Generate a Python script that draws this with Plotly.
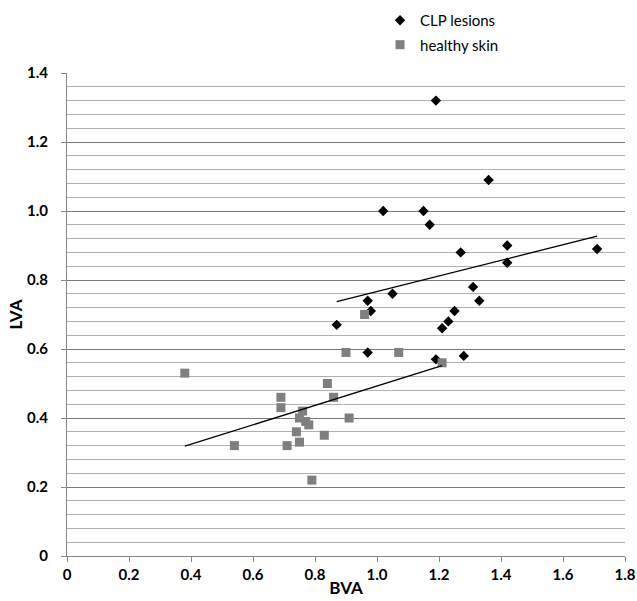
import numpy as np
import plotly.graph_objects as go

# CLP lesions (BVA, LVA)
clp_bva = [1.19, 1.36, 1.02, 1.15, 1.17, 1.42, 1.27, 1.71, 1.42, 1.31, 1.05,
           0.97, 1.33, 0.98, 1.25, 1.23, 0.87, 1.21, 0.97, 1.28, 1.19]
clp_lva = [1.32, 1.09, 1.00, 1.00, 0.96, 0.90, 0.88, 0.89, 0.85, 0.78, 0.76,
           0.74, 0.74, 0.71, 0.71, 0.68, 0.67, 0.66, 0.59, 0.58, 0.57]

# healthy skin (BVA, LVA)
hs_bva = [0.38, 0.54, 0.69, 0.69, 0.71, 0.74, 0.75, 0.75, 0.76, 0.77,
          0.78, 0.79, 0.83, 0.84, 0.86, 0.91, 0.90, 0.96, 1.07, 1.21]
hs_lva = [0.53, 0.32, 0.46, 0.43, 0.32, 0.36, 0.40, 0.33, 0.42, 0.39,
          0.38, 0.22, 0.35, 0.50, 0.46, 0.40, 0.59, 0.70, 0.59, 0.56]

x_tickvals = [0, 0.2, 0.4, 0.6, 0.8, 1.0, 1.2, 1.4, 1.6, 1.8]
x_ticktext = ["0", "0.2", "0.4", "0.6", "0.8", "1.0", "1.2", "1.4", "1.6", "1.8"]
y_tickvals = [0, 0.2, 0.4, 0.6, 0.8, 1.0, 1.2, 1.4]
y_ticktext = ["0", "0.2", "0.4", "0.6", "0.8", "1.0", "1.2", "1.4"]


def fit_line(xs, ys):
    xs = np.asarray(xs, float)
    ys = np.asarray(ys, float)
    m, b = np.polyfit(xs, ys, 1)
    xe = np.array([xs.min(), xs.max()])
    return xe, m * xe + b


FONT = "Lato, 'Open Sans', sans-serif"

fig = go.Figure()
fig.add_trace(go.Scatter(
    x=clp_bva, y=clp_lva, mode="markers", name="CLP lesions", legendgroup="clp",
    marker=dict(symbol="diamond", size=8, color="#000000", line=dict(width=0)),
))
fig.add_trace(go.Scatter(
    x=hs_bva, y=hs_lva, mode="markers", name="healthy skin", legendgroup="hs",
    marker=dict(symbol="square", size=9, color="#7f7f7f", line=dict(width=0)),
))
for xs, ys in ((clp_bva, clp_lva), (hs_bva, hs_lva)):
    fx, fy = fit_line(xs, ys)
    fig.add_trace(go.Scatter(
        x=fx, y=fy, mode="lines", showlegend=False, hoverinfo="skip",
        line=dict(color="#000000", width=1.3),
    ))

fig.update_layout(
    width=637, height=601,
    margin=dict(l=67, r=12, t=73, b=45, autoexpand=False),
    paper_bgcolor="white", plot_bgcolor="white",
    font=dict(family=FONT, color="#000000"),
    legend=dict(
        x=0.561, xanchor="left", y=1.143, yanchor="top",
        font=dict(family=FONT, size=15, color="#000000"),
        bgcolor="rgba(0,0,0,0)", tracegroupgap=2,
    ),
    xaxis=dict(
        range=[0, 1.8], tickmode="array", tickvals=x_tickvals,
        ticktext=["<b>%s</b>" % t for t in x_ticktext],
        showgrid=False, zeroline=False, automargin=False,
        showline=True, linecolor="#868686", linewidth=1,
        ticks="outside", ticklen=5, tickcolor="#868686",
        tickfont=dict(family=FONT, size=15, color="#000000"),
        title=dict(text="<b>BVA</b>", font=dict(family=FONT, size=17, color="#000000"),
                   standoff=0),
    ),
    yaxis=dict(
        range=[0, 1.4], tickmode="array", tickvals=y_tickvals,
        ticktext=["<b>%s</b>" % t for t in y_ticktext],
        showgrid=True, gridcolor="#7a7a7a", gridwidth=1, zeroline=False, automargin=False,
        showline=True, linecolor="#868686", linewidth=1,
        ticks="outside", ticklen=5, tickcolor="#868686",
        ticklabelstandoff=10,
        tickfont=dict(family=FONT, size=15, color="#000000"),
        minor=dict(tickmode="linear", tick0=0, dtick=0.04, showgrid=True,
                   gridcolor="#b0b0b0", gridwidth=1, ticks=""),
        title=dict(text="<b>LVA</b>", font=dict(family=FONT, size=17, color="#000000"),
                   standoff=0),
    ),
)

fig.write_html("out.html", config={"displayModeBar": False},
               post_script="document.body.style.margin='0px';")
